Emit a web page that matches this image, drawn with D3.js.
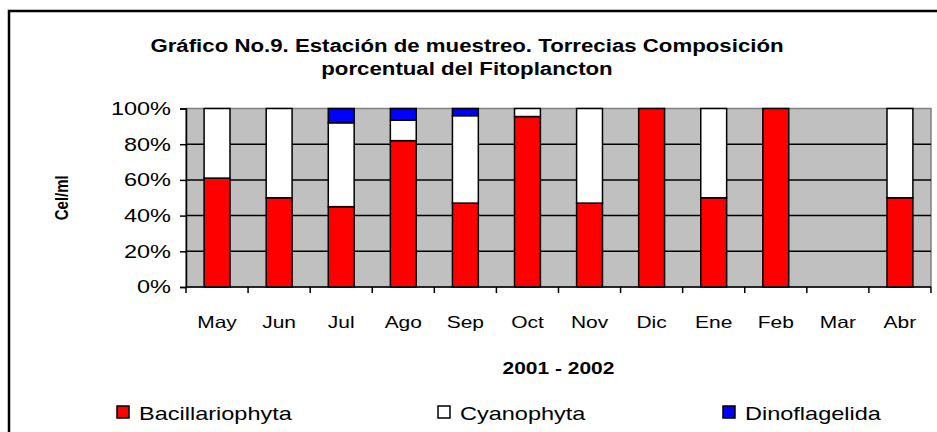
<!DOCTYPE html>
<html>
<head>
<meta charset="utf-8">
<script src="https://cdn.jsdelivr.net/npm/d3@7"></script>
<style>
  html, body { margin: 0; padding: 0; background: #fff; }
  svg { display: block; font-family: Arial, "Liberation Sans", sans-serif; }
</style>
</head>
<body>
<div id="chart"></div>
<script>
// data (fractions of the total per month)
const months = ['May', 'Jun', 'Jul', 'Ago', 'Sep', 'Oct', 'Nov', 'Dic', 'Ene', 'Feb', 'Mar', 'Abr'];
const bacillariophyta = [0.61, 0.50, 0.45, 0.82, 0.47, 0.955, 0.47, 1.00, 0.50, 1.00, 0, 0.50];
const cyanophyta      = [0.39, 0.50, 0.47, 0.115, 0.49, 0.045, 0.53, 0, 0.50, 0, 0, 0.50];
const dinoflagelida   = [0, 0, 0.08, 0.065, 0.04, 0, 0, 0, 0, 0, 0, 0];
const seriesNames = ['Bacillariophyta', 'Cyanophyta', 'Dinoflagelida'];
const seriesColors = ['#FF0000', '#FFFFFF', '#0000FF'];
const yTicks = [0, 0.2, 0.4, 0.6, 0.8, 1.0];

const W = 937, H = 432;
const plot = { left: 186, right: 931, top: 108.5, bottom: 287 };
const SX = 1.27; // the picture's text is drawn wider than plain Arial

// widen a text selection horizontally, keeping its anchor
function widen(sel, k) {
  sel.each(function () {
    const len = this.getComputedTextLength();
    d3.select(this)
      .attr('textLength', len * k)
      .attr('lengthAdjust', 'spacingAndGlyphs');
  });
}

const svg = d3.select('#chart').append('svg')
  .attr('width', W)
  .attr('height', H);

// outer chart frame (runs past the right and bottom edges)
svg.append('rect')
  .attr('x', 9).attr('y', 11)
  .attr('width', 1000).attr('height', 500)
  .attr('fill', '#fff')
  .attr('stroke', '#000')
  .attr('stroke-width', 2.5);

const x = d3.scaleBand()
  .domain(months)
  .range([plot.left, plot.right])
  .paddingInner(0.583)
  .paddingOuter(0.2917);

const y = d3.scaleLinear()
  .domain([0, 1])
  .range([plot.bottom, plot.top]);

// plot area
svg.append('rect')
  .attr('x', plot.left).attr('y', plot.top)
  .attr('width', plot.right - plot.left)
  .attr('height', plot.bottom - plot.top)
  .attr('fill', '#C0C0C0')
  .attr('stroke', '#808080')
  .attr('stroke-width', 1.5);

// gridlines
svg.append('g')
  .selectAll('line')
  .data(yTicks.filter(d => d > 0 && d < 1))
  .enter()
  .append('line')
  .attr('x1', plot.left).attr('x2', plot.right)
  .attr('y1', d => y(d)).attr('y2', d => y(d))
  .attr('stroke', '#000')
  .attr('stroke-width', 1.5);

// stacked bars
const stackData = months.map((m, i) => ({
  month: m,
  Bacillariophyta: bacillariophyta[i],
  Cyanophyta: cyanophyta[i],
  Dinoflagelida: dinoflagelida[i]
}));
const stacked = d3.stack().keys(seriesNames)(stackData);

svg.append('g')
  .selectAll('g')
  .data(stacked)
  .enter()
  .append('g')
  .attr('fill', (d, i) => seriesColors[i])
  .selectAll('rect')
  .data(d => d.filter(s => s[1] - s[0] > 0))
  .enter()
  .append('rect')
  .attr('x', d => x(d.data.month))
  .attr('width', x.bandwidth())
  .attr('y', d => y(d[1]))
  .attr('height', d => y(d[0]) - y(d[1]))
  .attr('stroke', '#000')
  .attr('stroke-width', 1.5);

// y axis
const yAxis = svg.append('g')
  .attr('transform', `translate(${plot.left},0)`)
  .call(d3.axisLeft(y).tickValues(yTicks).tickFormat(d3.format('.0%')).tickSize(6).tickPadding(9));
yAxis.select('.domain').attr('stroke', '#000').attr('stroke-width', 1.5);
yAxis.selectAll('.tick line').attr('stroke', '#000').attr('stroke-width', 1.5);
yAxis.selectAll('.tick text')
  .attr('fill', '#000')
  .style('font-size', '18.5px')
  .call(widen, SX);

// x axis: ticks sit on the category boundaries
const boundaries = d3.range(months.length + 1).map(i => plot.left + i * x.step());
const xAxis = svg.append('g');
xAxis.append('line')
  .attr('x1', plot.left).attr('x2', plot.right)
  .attr('y1', plot.bottom).attr('y2', plot.bottom)
  .attr('stroke', '#000').attr('stroke-width', 1.5);
xAxis.selectAll('line.tk')
  .data(boundaries)
  .enter()
  .append('line')
  .attr('class', 'tk')
  .attr('x1', d => d).attr('x2', d => d)
  .attr('y1', plot.bottom).attr('y2', plot.bottom + 6)
  .attr('stroke', '#000').attr('stroke-width', 1.5);
xAxis.selectAll('text')
  .data(months)
  .enter()
  .append('text')
  .attr('x', d => x(d) + x.bandwidth() / 2)
  .attr('y', 328)
  .attr('text-anchor', 'middle')
  .style('font-size', '16.5px')
  .text(d => d)
  .call(widen, SX);

// titles
const titleLines = ['Gráfico No.9. Estación de muestreo. Torrecias Composición', 'porcentual del Fitoplancton'];
svg.append('g')
  .selectAll('text')
  .data(titleLines)
  .enter()
  .append('text')
  .attr('x', 467)
  .attr('y', (d, i) => 51.5 + i * 23.5)
  .attr('text-anchor', 'middle')
  .style('font-size', '17.5px')
  .style('font-weight', 'bold')
  .text(d => d)
  .call(widen, SX);

svg.append('text')
  .attr('x', (plot.left + plot.right) / 2)
  .attr('y', 374)
  .attr('text-anchor', 'middle')
  .style('font-size', '16.5px')
  .style('font-weight', 'bold')
  .text('2001 - 2002')
  .call(widen, SX);

svg.append('text')
  .attr('transform', `translate(68,${(plot.top + plot.bottom) / 2}) rotate(-90) scale(1,${SX})`)
  .attr('text-anchor', 'middle')
  .style('font-size', '15px')
  .style('font-weight', 'bold')
  .text('Cel/ml');

// legend
const legendX = [117, 438, 723];
const legend = svg.append('g')
  .selectAll('g')
  .data(seriesNames)
  .enter()
  .append('g')
  .attr('transform', (d, i) => `translate(${legendX[i]},406)`);
legend.append('rect')
  .attr('width', 12).attr('height', 12)
  .attr('fill', (d, i) => seriesColors[i])
  .attr('stroke', '#000')
  .attr('stroke-width', 1.5);
legend.append('text')
  .attr('x', 22)
  .attr('y', 13.5)
  .style('font-size', '18.5px')
  .text(d => d)
  .call(widen, SX);
</script>
</body>
</html>
